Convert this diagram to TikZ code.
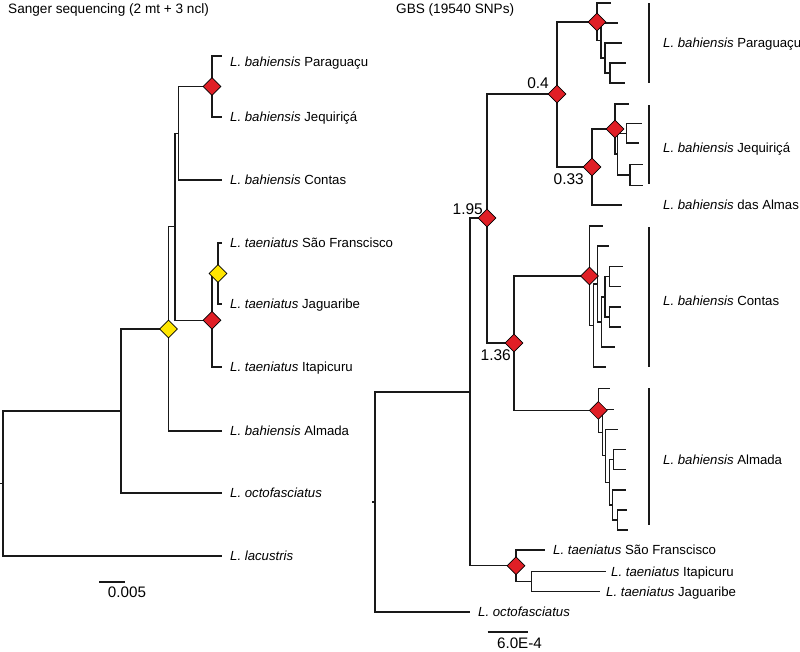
\documentclass[tikz,border=0pt]{standalone}
\usepackage{fontspec}
\setmainfont{Liberation Sans}
\usetikzlibrary{shapes.geometric}
\definecolor{dred}{HTML}{E01F26}
\definecolor{dyel}{HTML}{FFE600}
\newcommand{\taxon}[2]{\textit{#1} #2}
\begin{document}
\begin{tikzpicture}[x=1pt,y=-1pt,
 br/.style={line width=1.4pt, draw=black!90},
 rd/.style={diamond, draw=black, line width=0.6pt, fill=dred, inner sep=0pt, minimum width=18pt, minimum height=18pt},
 yd/.style={rd, fill=dyel},
 leaflab/.style={anchor=base west, inner sep=0pt, font=\fontsize{13.2}{15}\selectfont},
 numlab/.style={anchor=base east, inner sep=0pt, font=\fontsize{15.5}{17}\selectfont},
 titlelab/.style={anchor=base west, inner sep=0pt, font=\fontsize{13.6}{16}\selectfont},
 scalelab/.style={anchor=base, inner sep=0pt, font=\fontsize{15.2}{17}\selectfont},
]
\useasboundingbox (0,0) rectangle (800,651);

% ---------------- titles
\node[titlelab] (tLeft) at (8,13) {Sanger sequencing (2 mt + 3 ncl)};
\node[titlelab] (tRight) at (396,13) {GBS (19540 SNPs)};

% ---------------- left tree
\coordinate (lRt) at (0,483.5);
\coordinate (lR) at (3,483.5);
\coordinate (lG) at (121,411);
\coordinate (lA) at (168.5,329);
\coordinate (lB) at (175,226.75);
\coordinate (lC) at (178.3,133.25);
\coordinate (lE) at (212,86.5);
\coordinate (lD) at (212,320.25);
\coordinate (lF) at (218,273.5);
\coordinate (lPar) at (222,56);
\coordinate (lJeq) at (222,117);
\coordinate (lCon) at (222,180);
\coordinate (lSaF) at (222,243);
\coordinate (lJag) at (222,304);
\coordinate (lIta) at (222,367);
\coordinate (lAlm) at (222,431);
\coordinate (lOct) at (222,493);
\coordinate (lLac) at (222,556);

\draw[br] (lRt) -- (lR);
\foreach \p/\c in {lR/lG, lR/lLac, lG/lA, lG/lOct, lA/lB, lA/lAlm, lB/lC, lB/lD,
  lC/lE, lC/lCon, lE/lPar, lE/lJeq, lD/lF, lD/lIta, lF/lSaF, lF/lJag}
  \draw[br, line join=miter] (\p) |- (\c);

\node[rd] (dlE) at (lE) {};
\node[rd] (dlD) at (lD) {};
\node[yd] (dlF) at (lF) {};
\node[yd] (dlA) at (lA) {};

\node[leaflab] (nlPar) at (230,66.7) {\taxon{L. bahiensis}{Paraguaçu}};
\node[leaflab] (nlJeq) at (230,121.7) {\taxon{L. bahiensis}{Jequiriçá}};
\node[leaflab] (nlCon) at (230,184.7) {\taxon{L. bahiensis}{Contas}};
\node[leaflab] (nlSaF) at (230,247.7) {\taxon{L. taeniatus}{São Franscisco}};
\node[leaflab] (nlJag) at (230,308.7) {\taxon{L. taeniatus}{Jaguaribe}};
\node[leaflab] (nlIta) at (230,371.7) {\taxon{L. taeniatus}{Itapicuru}};
\node[leaflab] (nlAlm) at (230,435.7) {\taxon{L. bahiensis}{Almada}};
\node[leaflab] (nlOct) at (230,497.7) {\textit{L. octofasciatus}};
\node[leaflab] (nlLac) at (230,560.7) {\textit{L. lacustris}};

\coordinate (sbL1) at (99,582);
\coordinate (sbL2) at (125,582);
\draw[br] (sbL1) -- (sbL2);
\node[scalelab] (sbLt) at (127,597) {0.005};

% ---------------- right tree
\coordinate (rRt) at (372,502);
\coordinate (rR) at (375,502);
\coordinate (rX) at (470,392);
\coordinate (rN195) at (487,218);
\coordinate (rN04) at (557,94);
\coordinate (rN033) at (592,167);
\coordinate (rN136) at (514,343);
\coordinate (rT1) at (516,565.7);
\coordinate (rT2) at (531.7,581.7);
\coordinate (rOct) at (470,612);
\coordinate (rSF) at (545,550);
\coordinate (rIta) at (606,571.7);
\coordinate (rJag) at (600,591.7);
\coordinate (rAlmas) at (622,205);
% Paraguacu
\coordinate (rP1) at (597,22);
\coordinate (rP2) at (601,40.5);
\coordinate (rP3) at (605,58);
\coordinate (rP4) at (610,73);
\coordinate (rPa) at (611,3);
\coordinate (rPb) at (618,23);
\coordinate (rPc) at (622,43);
\coordinate (rPd) at (626,63);
\coordinate (rPe) at (625,83);
% Jequirica
\coordinate (rJ1) at (615,129);
\coordinate (rJ2) at (617.3,154);
\coordinate (rJ3) at (626.7,133.3);
\coordinate (rJ5) at (630,175);
\coordinate (rJa) at (629,104);
\coordinate (rJb) at (641.7,123.7);
\coordinate (rJc) at (639,143);
\coordinate (rJd) at (642.7,164.7);
\coordinate (rJe) at (643.3,185.3);
% Contas
\coordinate (rC1) at (589.5,276);
\coordinate (rC2) at (593.3,325.5);
\coordinate (rC3) at (597.3,284);
\coordinate (rC4) at (601.3,322);
\coordinate (rC5) at (605,297);
\coordinate (rC6) at (609.3,276.5);
\coordinate (rC7) at (609.3,317);
\coordinate (rCa) at (602.7,226);
\coordinate (rCb) at (609.3,246);
\coordinate (rCc) at (622.7,266.5);
\coordinate (rCd) at (621,286.5);
\coordinate (rCe) at (621,307);
\coordinate (rCf) at (621,327);
\coordinate (rCg) at (615,347);
\coordinate (rCh) at (606,367);
% Almada
\coordinate (rA1) at (598.3,410.4);
\coordinate (rA2) at (602.3,432.5);
\coordinate (rA3) at (605.7,455.7);
\coordinate (rA4) at (609.3,482.2);
\coordinate (rA5) at (613.3,459.3);
\coordinate (rA6) at (612.7,505);
\coordinate (rA7) at (617.3,520);
\coordinate (rAa) at (610,388.3);
\coordinate (rAb) at (614,409.3);
\coordinate (rAc) at (618.3,429.3);
\coordinate (rAd) at (626,449.3);
\coordinate (rAe) at (626,469.3);
\coordinate (rAf) at (626,490);
\coordinate (rAg) at (626.7,510);
\coordinate (rAh) at (628.3,530);

\draw[br] (rRt) -- (rR);
\foreach \p/\c in {rR/rX, rR/rOct, rX/rN195, rX/rT1, rN195/rN04, rN195/rN136,
  rN04/rP1, rN04/rN033, rN033/rJ1, rN033/rAlmas, rN136/rC1, rN136/rA1,
  rT1/rSF, rT1/rT2, rT2/rIta, rT2/rJag,
  rP1/rPa, rP1/rP2, rP2/rPb, rP2/rP3, rP3/rPc, rP3/rP4, rP4/rPd, rP4/rPe,
  rJ1/rJa, rJ1/rJ2, rJ2/rJ3, rJ2/rJ5, rJ3/rJb, rJ3/rJc, rJ5/rJd, rJ5/rJe,
  rC1/rCa, rC1/rC2, rC2/rC3, rC2/rCh, rC3/rCb, rC3/rC4, rC4/rC5, rC4/rCg,
  rC5/rC6, rC5/rC7, rC6/rCc, rC6/rCd, rC7/rCe, rC7/rCf,
  rA1/rAa, rA1/rA2, rA2/rAb, rA2/rA3, rA3/rAc, rA3/rA4, rA4/rA5, rA4/rA6,
  rA5/rAd, rA5/rAe, rA6/rAf, rA6/rA7, rA7/rAg, rA7/rAh}
  \draw[br, line join=miter] (\p) |- (\c);

\foreach \n in {rN195, rN04, rN033, rN136, rP1, rJ1, rC1, rA1, rT1}
  \node[rd] (d\n) at (\n) {};

% clade bars
\coordinate (bP1) at (649,3);   \coordinate (bP2) at (649,83);
\coordinate (bJ1) at (649,105); \coordinate (bJ2) at (649,184);
\coordinate (bC1) at (649,227); \coordinate (bC2) at (649,367);
\coordinate (bA1) at (649,388); \coordinate (bA2) at (649,525);
\draw[br] (bP1) -- (bP2);
\draw[br] (bJ1) -- (bJ2);
\draw[br] (bC1) -- (bC2);
\draw[br] (bA1) -- (bA2);

\node[leaflab] (nrPar) at (663,47.7) {\taxon{L. bahiensis}{Paraguaçu}};
\node[leaflab] (nrJeq) at (663,152.7) {\taxon{L. bahiensis}{Jequiriçá}};
\node[leaflab] (nrAlmas) at (663,209.7) {\taxon{L. bahiensis}{das Almas}};
\node[leaflab] (nrCon) at (663,305.7) {\taxon{L. bahiensis}{Contas}};
\node[leaflab] (nrAlm) at (663,464.7) {\taxon{L. bahiensis}{Almada}};
\node[leaflab] (nrSF) at (553,554.7) {\taxon{L. taeniatus}{São Franscisco}};
\node[leaflab] (nrIta) at (611,576.4) {\taxon{L. taeniatus}{Itapicuru}};
\node[leaflab] (nrJag) at (606,596.4) {\taxon{L. taeniatus}{Jaguaribe}};
\node[leaflab] (nrOct) at (478,616.7) {\textit{L. octofasciatus}};

\node[numlab] (v195) at (483,214.5) {1.95};
\node[numlab] (v04) at (549,88.5) {0.4};
\node[numlab] (v033) at (584,184.5) {0.33};
\node[numlab] (v136) at (511,360.5) {1.36};

\coordinate (sbR1) at (487.7,632);
\coordinate (sbR2) at (527.7,632);
\draw[br] (sbR1) -- (sbR2);
\node[scalelab] (sbRt) at (519.5,648.5) {6.0E-4};
\end{tikzpicture}
\end{document}
